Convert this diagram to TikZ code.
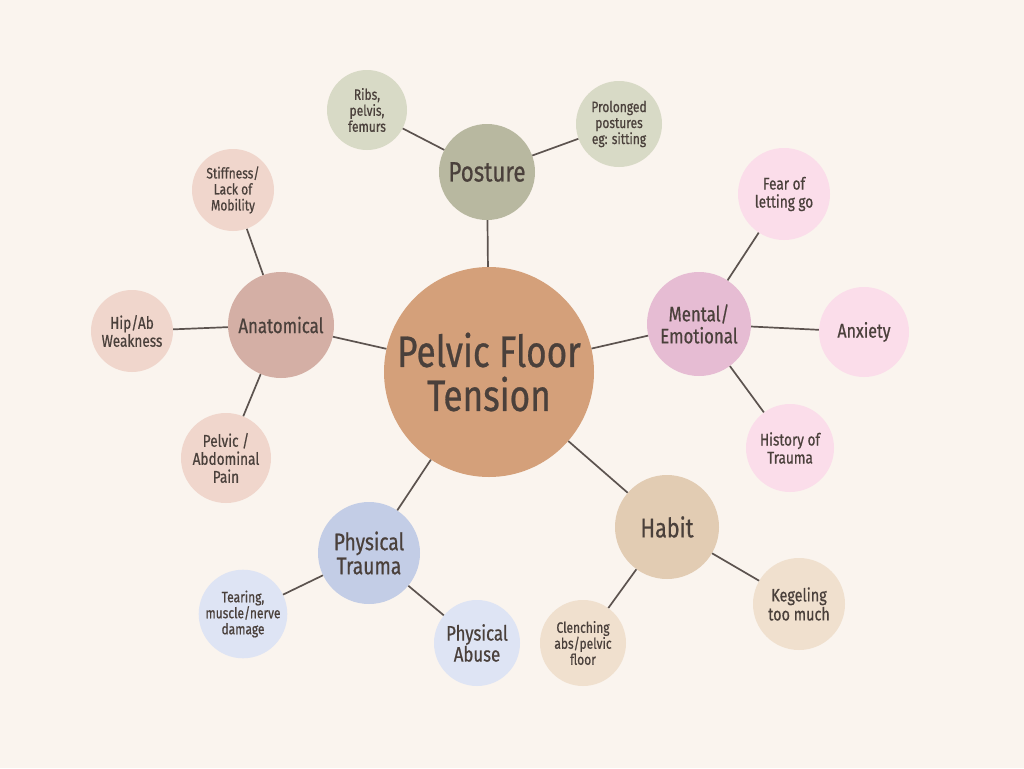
\documentclass[tikz,border=0pt]{standalone}
\usepackage{fontspec}
\setmainfont[FakeStretch=0.8,FakeBold=0.6]{Fira Sans}
\definecolor{bg}{HTML}{FAF4EE}
\definecolor{tx}{HTML}{4A403B}
\definecolor{cmain}{HTML}{D4A07A}
\definecolor{cpost}{HTML}{B8B8A0}
\definecolor{lpost}{HTML}{D8DAC6}
\definecolor{canat}{HTML}{D4AFA5}
\definecolor{lanat}{HTML}{F0D6CC}
\definecolor{cment}{HTML}{E6BCD3}
\definecolor{lment}{HTML}{FBDDEA}
\definecolor{chab}{HTML}{E2CCB3}
\definecolor{lhab}{HTML}{F0E0CE}
\definecolor{ctra}{HTML}{C3CDE6}
\definecolor{ltra}{HTML}{DEE4F4}
\tikzset{
 bub/.style n args={2}{circle,fill=#1,minimum size=#2,inner sep=0pt,align=center,text=tx,font=\fontsize{15}{16}\selectfont},
 sm/.style={font=\fontsize{15}{16}\selectfont},
 md/.style={font=\fontsize{20}{21}\selectfont},
 edge/.style={draw=tx!90,line width=1.7pt}
}
\begin{document}
\begin{tikzpicture}[x=1pt,y=-1pt]
\fill[bg] (0,0) rectangle (1024,768);
\useasboundingbox (0,0) rectangle (1024,768);
\node[bub={cmain}{210pt},font=\fontsize{44}{44}\selectfont] (c) at (489,372) {Pelvic Floor\\Tension};
\node[bub={cpost}{96pt},md,font=\fontsize{28}{28}\selectfont] (p) at (487,172) {Posture};
\node[bub={lpost}{80pt},sm] (p1) at (367,110) {Ribs,\\pelvis,\\femurs};
\node[bub={lpost}{86pt},sm] (p2) at (619,124) {Prolonged\\postures\\eg: sitting};
\node[bub={canat}{106pt},md,font=\fontsize{21}{22}\selectfont] (a) at (281,325) {Anatomical};
\node[bub={lanat}{82pt},sm] (a1) at (233,190) {Stiffness/\\Lack of\\Mobility};
\node[bub={lanat}{82pt},md,font=\fontsize{17}{18}\selectfont] (a2) at (132,331) {Hip/Ab\\Weakness};
\node[bub={lanat}{90pt},md,font=\fontsize{17}{18}\selectfont] (a3) at (226,458) {Pelvic /\\Abdominal\\Pain};
\node[bub={cment}{104pt},md,font=\fontsize{21}{22}\selectfont] (m) at (699,324) {Mental/\\Emotional};
\node[bub={lment}{92pt},md,font=\fontsize{17}{18}\selectfont] (m1) at (784,194) {Fear of\\letting go};
\node[bub={lment}{90pt},md] (m2) at (864,332) {Anxiety};
\node[bub={lment}{88pt},md,font=\fontsize{17}{18}\selectfont] (m3) at (790,448) {History of\\Trauma};
\node[bub={chab}{104pt},md,font=\fontsize{27}{28}\selectfont] (h) at (667,527) {Habit};
\node[bub={lhab}{92pt},md,font=\fontsize{18}{19}\selectfont] (h1) at (799,604) {Kegeling\\too much};
\node[bub={lhab}{86pt},sm] (h2) at (583,643) {Clenching\\abs/pelvic\\floor};
\node[bub={ctra}{102pt},md,font=\fontsize{24}{24}\selectfont] (t) at (369,553) {Physical\\Trauma};
\node[bub={ltra}{86pt},sm] (t1) at (243,614) {Tearing,\\muscle/nerve\\damage};
\node[bub={ltra}{86pt},md,font=\fontsize{21}{21}\selectfont] (t2) at (477,643) {Physical\\Abuse};
\foreach \u/\v in {c/p,p/p1,p/p2,c/a,a/a1,a/a2,a/a3,c/m,m/m1,m/m2,m/m3,c/h,h/h1,h/h2,c/t,t/t1,t/t2}
  \draw[edge] (\u) -- (\v);
\end{tikzpicture}
\end{document}
